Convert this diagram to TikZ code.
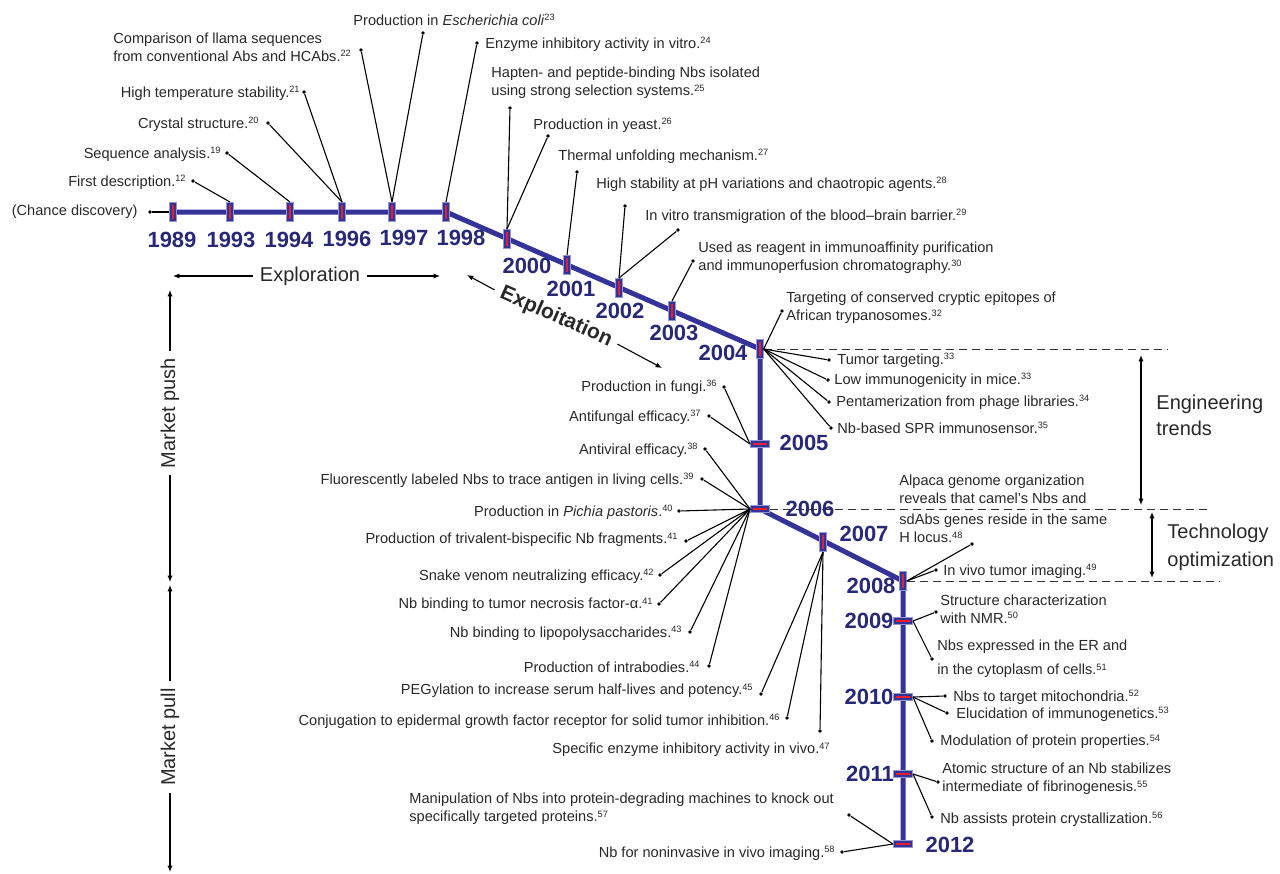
\documentclass[tikz,border=0pt]{standalone}
\usepackage{fontspec}
\setmainfont{Liberation Sans}
\usetikzlibrary{arrows.meta, backgrounds}

\definecolor{tlblue}{RGB}{51,51,153}
\definecolor{tlrim}{RGB}{150,150,210}
\definecolor{tlred}{RGB}{230,30,45}
\definecolor{yearblue}{RGB}{40,40,120}
\definecolor{labeltext}{RGB}{40,40,40}

\newcommand{\rf}[1]{\raisebox{0.6ex}{\fontsize{4.6}{5}\selectfont #1}}

\tikzset{
  vmark/.style={rectangle, inner sep=0pt, minimum width=3.2pt, minimum height=9.5pt, fill=tlblue, draw=tlrim, line width=0.5pt,
    path picture={\draw[tlred, line width=1.1pt] ([yshift=-1.3pt]path picture bounding box.north) -- ([yshift=1.3pt]path picture bounding box.south);}},
  hmark/.style={rectangle, inner sep=0pt, minimum width=9.5pt, minimum height=3.2pt, fill=tlblue, draw=tlrim, line width=0.5pt,
    path picture={\draw[tlred, line width=1.1pt] ([xshift=1.3pt]path picture bounding box.west) -- ([xshift=-1.3pt]path picture bounding box.east);}},
  timeline/.style={tlblue, line width=2.5pt},
  yearlbl/.style={font=\fontsize{11}{13}\selectfont\bfseries, text=yearblue, inner sep=0pt},
  lbl/.style={font=\fontsize{7.3}{9}\selectfont, text=labeltext, inner sep=0pt, align=left},
  leaddot/.style={circle, fill=black, inner sep=0pt, minimum size=1.8pt},
  lead/.style={line width=0.55pt},
  era/.style={font=\fontsize{10}{13}\selectfont, text=labeltext},
  guide/.style={dash pattern=on 4pt off 2.5pt, line width=0.5pt, black!80},
}

\begin{document}
\begin{tikzpicture}[x=0.5pt, y=-0.5pt, >={Latex[length=3.2pt,width=2.6pt]}]
\useasboundingbox (0,0) rectangle (1280,873);

% Draw the year markers
\node at (173,212) [vmark] (y1989) {};
\node at (230,212) [vmark] (y1993) {};
\node at (290,212) [vmark] (y1994) {};
\node at (342,212) [vmark] (y1996) {};
\node at (392,212) [vmark] (y1997) {};
\node at (446,212) [vmark] (y1998) {};
\node at (507,239) [vmark] (y2000) {};
\node at (567,265) [vmark] (y2001) {};
\node at (619,288) [vmark] (y2002) {};
\node at (672,311) [vmark] (y2003) {};
\node at (760,349) [vmark] (y2004) {};
\node at (760,444) [hmark] (y2005) {};
\node at (760,509) [hmark] (y2006) {};
\node at (823,542) [vmark] (y2007) {};
\node at (903,581) [vmark] (y2008) {};
\node at (903,621) [hmark] (y2009) {};
\node at (903,697) [hmark] (y2010) {};
\node at (903,774) [hmark] (y2011) {};
\node at (903,844) [hmark] (y2012) {};

% Draw the timeline behind the markers
\begin{scope}[on background layer]
\draw[timeline] (y1989.center) -- (y1998.center) -- (y2004.center) -- (y2006.center) -- (y2008.center) -- (y2012.center);
\end{scope}

% Years
\node at (172,240) [yearlbl] (l1989) {1989};
\node at (231,240) [yearlbl] (l1993) {1993};
\node at (289,240) [yearlbl] (l1994) {1994};
\node at (347,239) [yearlbl] (l1996) {1996};
\node at (404,238) [yearlbl] (l1997) {1997};
\node at (461,238) [yearlbl] (l1998) {1998};
\node at (527,266) [yearlbl] (l2000) {2000};
\node at (571,289) [yearlbl] (l2001) {2001};
\node at (620,311) [yearlbl] (l2002) {2002};
\node at (674,333) [yearlbl] (l2003) {2003};
\node at (723,353) [yearlbl] (l2004) {2004};
\node at (804,443) [yearlbl] (l2005) {2005};
\node at (864,534) [yearlbl] (l2007) {2007};
\node at (871,586) [yearlbl] (l2008) {2008};
\node at (869,621) [yearlbl] (l2009) {2009};
\node at (869,697) [yearlbl] (l2010) {2010};
\node at (870,774) [yearlbl] (l2011) {2011};
\node at (950,845) [yearlbl] (l2012) {2012};

% Draw the phase borders
\coordinate (g2004) at (1167,349);
\coordinate (g2006) at (1207,509);
\coordinate (g2008) at (1219,581);
\draw[guide] (y2004.east) -- (g2004);
\draw[guide] (y2006.east) -- (g2006);
\draw[guide] (y2008.east) -- (g2008);
\node at (810,509) [yearlbl] (l2006) {2006};

% Exploration 1989-1998
\node at (173,212) [leaddot, xshift=-11.5pt] (dchance) {};
\node at (138,212) [lbl, anchor=east] (tchance) {(Chance discovery)};
\draw[lead] (dchance) -- (y1989.west);
\node at (193,181) [leaddot] (d12) {};
\node at (186,182) [lbl, anchor=east] (t12) {First description.\rf{12}};
\draw[lead] (d12) -- (y1993.north);
\node at (227,153) [leaddot] (d19) {};
\node at (221,154) [lbl, anchor=east] (t19) {Sequence analysis.\rf{19}};
\draw[lead] (d19) -- (y1994.north);
\node at (268,123) [leaddot] (d20) {};
\node at (259,124) [lbl, anchor=east] (t20) {Crystal structure.\rf{20}};
\draw[lead] (d20) -- (y1996.north);
\node at (304,92) [leaddot] (d21) {};
\node at (300,93) [lbl, anchor=east] (t21) {High temperature stability.\rf{21}};
\draw[lead] (d21) -- (y1996.north);
\node at (361,50) [leaddot] (d22) {};
\node at (113,47) [lbl, anchor=west] (t22) {Comparison of llama sequences\\from conventional Abs and HCAbs.\rf{22}};
\draw[lead] (d22) -- (y1997.north);
\node at (423,33) [leaddot] (d23) {};
\node at (353,20) [lbl, anchor=west] (t23) {Production in \textit{Escherichia coli}\rf{23}};
\draw[lead] (d23) -- (y1997.north);
\node at (477,43) [leaddot] (d24) {};
\node at (485,44) [lbl, anchor=west] (t24) {Enzyme inhibitory activity in vitro.\rf{24}};
\draw[lead] (d24) -- (y1998.north);

% Exploitation 2000-2004
\node at (510,108) [leaddot] (d25) {};
\node at (491,83) [lbl, anchor=west] (t25) {Hapten- and peptide-binding Nbs isolated\\using strong selection systems.\rf{25}};
\draw[lead] (d25) -- (y2000.north);
\node at (548,136) [leaddot] (d26) {};
\node at (533,125) [lbl, anchor=west] (t26) {Production in yeast.\rf{26}};
\draw[lead] (d26) -- (y2000.north);
\node at (577,172) [leaddot] (d27) {};
\node at (558,156) [lbl, anchor=west] (t27) {Thermal unfolding mechanism.\rf{27}};
\draw[lead] (d27) -- (y2001.north);
\node at (625,206) [leaddot] (d28) {};
\node at (596,184) [lbl, anchor=west] (t28) {High stability at pH variations and chaotropic agents.\rf{28}};
\draw[lead] (d28) -- (y2002.north);
\node at (678,230) [leaddot] (d29) {};
\node at (645,216) [lbl, anchor=west] (t29) {In vitro transmigration of the blood--brain barrier.\rf{29}};
\draw[lead] (d29) -- (y2002.north);
\node at (693,261) [leaddot] (d30) {};
\node at (698,258) [lbl, anchor=west] (t30) {Used as reagent in immunoaffinity purification\\and immunoperfusion chromatography.\rf{30}};
\draw[lead] (d30) -- (y2003.north);
\node at (782,311) [leaddot] (d32) {};
\node at (786,308) [lbl, anchor=west] (t32) {Targeting of conserved cryptic epitopes of\\African trypanosomes.\rf{32}};
\draw[lead] (d32) -- (y2004.east);

% 2004 fan
\node at (829,360) [leaddot] (d33a) {};
\node at (837,360) [lbl, anchor=west] (t33a) {Tumor targeting.\rf{33}};
\draw[lead] (y2004.east) -- (d33a);
\node at (828,380) [leaddot] (d33b) {};
\node at (834,380) [lbl, anchor=west] (t33b) {Low immunogenicity in mice.\rf{33}};
\draw[lead] (y2004.east) -- (d33b);
\node at (829,402) [leaddot] (d34) {};
\node at (836,402) [lbl, anchor=west] (t34) {Pentamerization from phage libraries.\rf{34}};
\draw[lead] (y2004.east) -- (d34);
\node at (831,428) [leaddot] (d35) {};
\node at (837,428) [lbl, anchor=west] (t35) {Nb-based SPR immunosensor.\rf{35}};
\draw[lead] (y2004.east) -- (d35);

% 2005 and 2006 fans
\node at (724,387) [leaddot] (d36) {};
\node at (717,387) [lbl, anchor=east] (t36) {Production in fungi.\rf{36}};
\draw[lead] (d36) -- (y2005.west);
\node at (709,416) [leaddot] (d37) {};
\node at (701,417) [lbl, anchor=east] (t37) {Antifungal efficacy.\rf{37}};
\draw[lead] (d37) -- (y2005.west);
\node at (705,449) [leaddot] (d38) {};
\node at (698,450) [lbl, anchor=east] (t38) {Antiviral efficacy.\rf{38}};
\draw[lead] (d38) -- (y2006.west);
\node at (702,479) [leaddot] (d39) {};
\node at (694,480) [lbl, anchor=east] (t39) {Fluorescently labeled Nbs to trace antigen in living cells.\rf{39}};
\draw[lead] (d39) -- (y2006.west);
\node at (679,511) [leaddot] (d40) {};
\node at (673,512) [lbl, anchor=east] (t40) {Production in \textit{Pichia pastoris}.\rf{40}};
\draw[lead] (d40) -- (y2006.west);
\node at (686,541) [leaddot] (d41a) {};
\node at (678,540) [lbl, anchor=east] (t41a) {Production of trivalent-bispecific Nb fragments.\rf{41}};
\draw[lead] (d41a) -- (y2006.west);
\node at (660,575) [leaddot] (d42) {};
\node at (654,576) [lbl, anchor=east] (t42) {Snake venom neutralizing efficacy.\rf{42}};
\draw[lead] (d42) -- (y2006.west);
\node at (659,604) [leaddot] (d41b) {};
\node at (653,605) [lbl, anchor=east] (t41b) {Nb binding to tumor necrosis factor-α.\rf{41}};
\draw[lead] (d41b) -- (y2006.west);
\node at (690,632) [leaddot] (d43) {};
\node at (682,633) [lbl, anchor=east] (t43) {Nb binding to lipopolysaccharides.\rf{43}};
\draw[lead] (d43) -- (y2006.west);
\node at (709,666) [leaddot] (d44) {};
\node at (700,667) [lbl, anchor=east] (t44) {Production of intrabodies.\rf{44}};
\draw[lead] (d44) -- (y2006.west);

% 2007 fan
\node at (761,694) [leaddot] (d45) {};
\node at (753,691) [lbl, anchor=east] (t45) {PEGylation to increase serum half-lives and potency.\rf{45}};
\draw[lead] (d45) -- (y2007.south);
\node at (787,718) [leaddot] (d46) {};
\node at (780,721) [lbl, anchor=east] (t46) {Conjugation to epidermal growth factor receptor for solid tumor inhibition.\rf{46}};
\draw[lead] (d46) -- (y2007.south);
\node at (820,731) [leaddot] (d47) {};
\node at (830,750) [lbl, anchor=east] (t47) {Specific enzyme inhibitory activity in vivo.\rf{47}};
\draw[lead] (d47) -- (y2007.south);

% Optimization 2008-2012
\node at (972,544) [leaddot] (d48) {};
\node at (899,509) [lbl, anchor=west] (t48) {Alpaca genome organization\\reveals that camel's Nbs and\\[1.5pt]sdAbs genes reside in the same\\H locus.\rf{48}};
\draw[lead] (y2008.east) -- (d48);
\node at (936,570) [leaddot] (d49) {};
\node at (943,571) [lbl, anchor=west] (t49) {In vivo tumor imaging.\rf{49}};
\draw[lead] (y2008.east) -- (d49);
\node at (936,612) [leaddot] (d50) {};
\node at (940,609) [lbl, anchor=west] (t50) {Structure characterization\\with NMR.\rf{50}};
\draw[lead] (y2009.east) -- (d50);
\node at (932,659) [leaddot] (d51) {};
\node at (937,659) [lbl, anchor=west] (t51) {Nbs expressed in the ER and\\[3pt]in the cytoplasm of cells.\rf{51}};
\draw[lead] (y2009.east) -- (d51);
\node at (945,696) [leaddot] (d52) {};
\node at (953,697) [lbl, anchor=west] (t52) {Nbs to target mitochondria.\rf{52}};
\draw[lead] (y2010.east) -- (d52);
\node at (947,713) [leaddot] (d53) {};
\node at (956,714) [lbl, anchor=west] (t53) {Elucidation of immunogenetics.\rf{53}};
\draw[lead] (y2010.east) -- (d53);
\node at (932,741) [leaddot] (d54) {};
\node at (940,742) [lbl, anchor=west] (t54) {Modulation of protein properties.\rf{54}};
\draw[lead] (y2010.east) -- (d54);
\node at (938,782) [leaddot] (d55) {};
\node at (942,779) [lbl, anchor=west] (t55) {Atomic structure of an Nb stabilizes\\intermediate of fibrinogenesis.\rf{55}};
\draw[lead] (y2011.east) -- (d55);
\node at (932,817) [leaddot] (d56) {};
\node at (940,819) [lbl, anchor=west] (t56) {Nb assists protein crystallization.\rf{56}};
\draw[lead] (y2011.east) -- (d56);
\node at (849,815) [leaddot] (d57) {};
\node at (409,809) [lbl, anchor=west] (t57) {Manipulation of Nbs into protein-degrading machines to knock out\\specifically targeted proteins.\rf{57}};
\draw[lead] (d57) -- (y2012.west);
\node at (842,852) [leaddot] (d58) {};
\node at (835,853) [lbl, anchor=east] (t58) {Nb for noninvasive in vivo imaging.\rf{58}};
\draw[lead] (d58) -- (y2012.west);

% Draw the eras
\node at (310,276) [era] (expl) {Exploration};
\coordinate (ex1) at (173,276);
\coordinate (ex2) at (440,276);
\draw[->, lead] (expl) -- (ex1);
\draw[->, lead] (expl) -- (ex2);
\node at (556,317) [era, rotate=-23.8, font=\fontsize{10.5}{12}\selectfont\bfseries] (expt) {Exploitation};
\coordinate (xt1) at (467,275);
\coordinate (xt2) at (662,368);
\draw[->, lead] (expt.west) -- (xt1);
\draw[->, lead] (expt.east) -- (xt2);

\node at (170,413) [era, rotate=90] (push) {Market push};
\coordinate (mp1) at (170,290);
\coordinate (mp2) at (170,582);
\draw[->, lead] (push.east) -- (mp1);
\draw[->, lead] (push.west) -- (mp2);
\node at (170,737) [era, rotate=90] (pull) {Market pull};
\coordinate (mq1) at (170,585);
\coordinate (mq2) at (170,872);
\draw[->, lead] (pull.east) -- (mq1);
\draw[->, lead] (pull.west) -- (mq2);

\node at (1156,415) [era, anchor=west, align=left, inner sep=0pt] (eng) {Engineering\\trends};
\coordinate (ea1) at (1141,355);
\coordinate (ea2) at (1141,505);
\draw[<->, lead] (ea1) -- (ea2);
\node at (1167,547) [era, anchor=west, align=left, inner sep=0pt] (tech) {Technology\\[1pt]optimization};
\coordinate (ta1) at (1152,512);
\coordinate (ta2) at (1152,578);
\draw[<->, lead] (ta1) -- (ta2);
\end{tikzpicture}
\end{document}
